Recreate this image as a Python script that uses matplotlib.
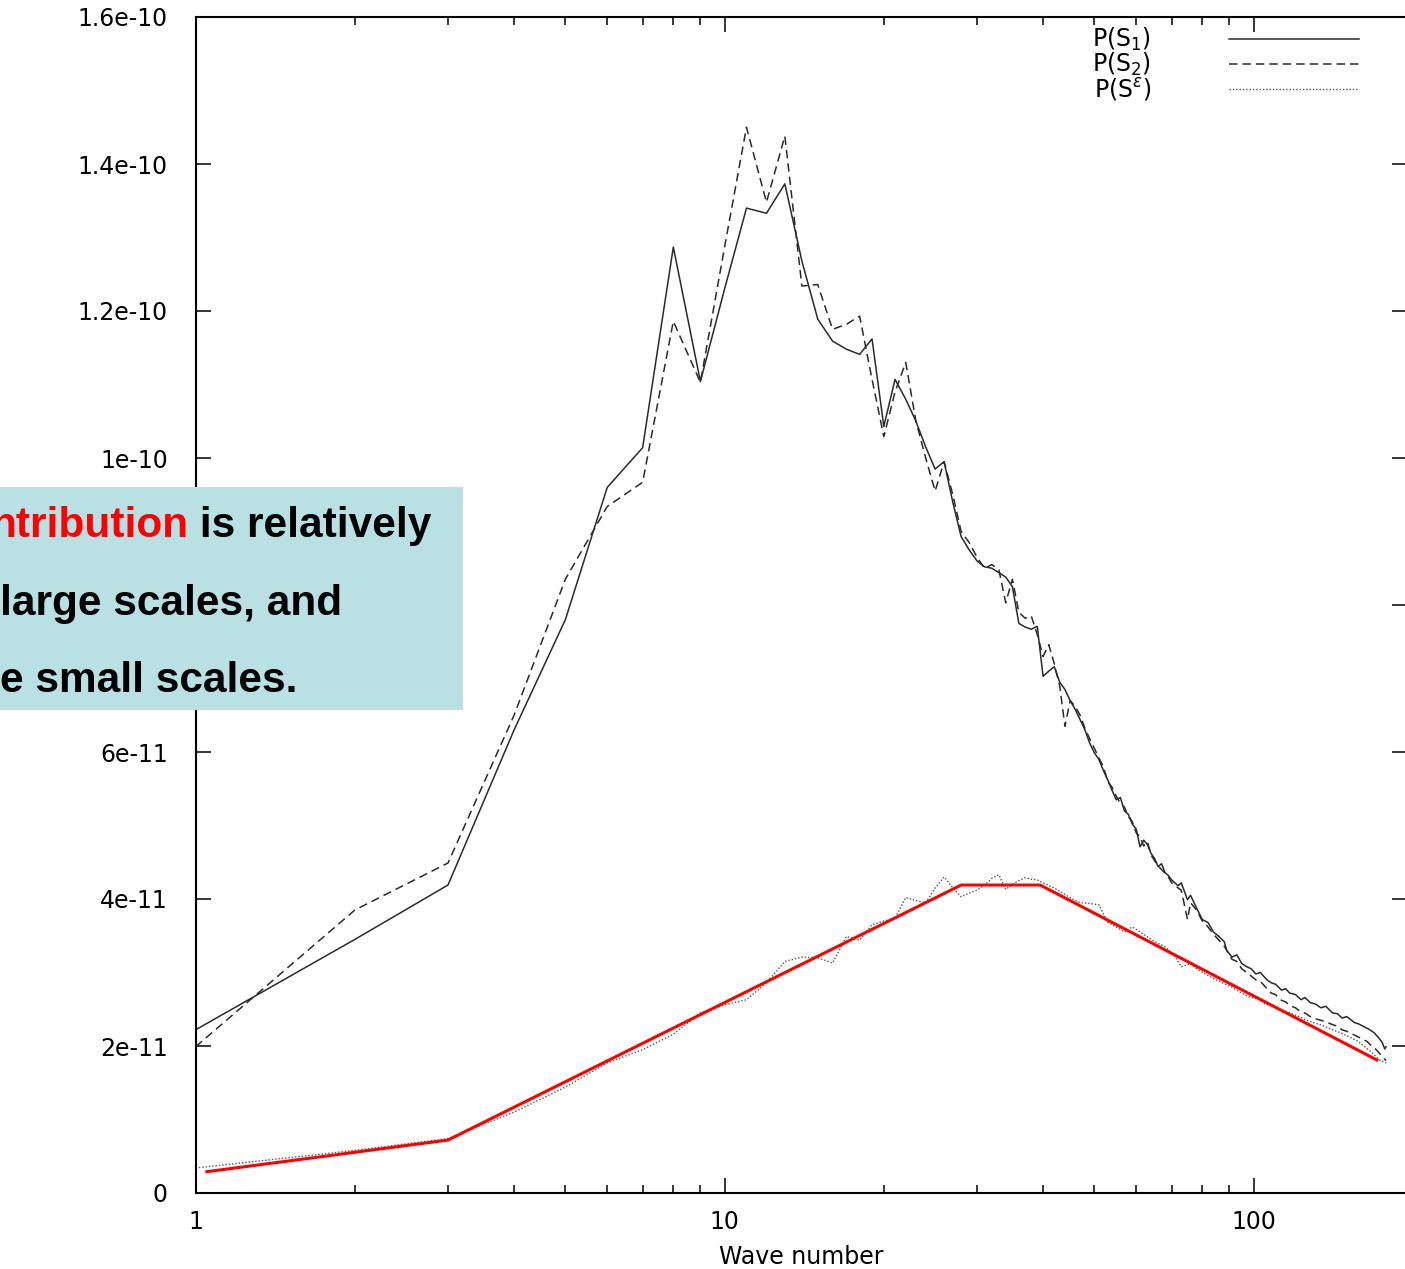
import matplotlib
matplotlib.use("Agg")
import matplotlib.pyplot as plt
import matplotlib.ticker as ticker
from matplotlib.patches import Rectangle
from matplotlib.text import Annotation

W, H = 1405, 1269
UNIT = 1e-11

# P(S1), solid
k_s1 = list(range(1, 71)) + [72, 73, 75, 76, 78, 79, 80, 82, 84, 86, 88, 89, 91, 93, 95, 97, 99,
                             101, 103, 106, 108, 110, 113, 115, 117, 120, 123, 125, 128, 131, 134,
                             137, 141, 144, 147, 150, 155, 158, 161, 164, 166, 169, 172, 175, 177, 178]
p_s1 = [2.22, 3.45, 4.19, 6.30, 7.80, 9.60, 10.14, 12.87, 11.04, 12.30,
        13.40, 13.33, 13.73, 12.68, 11.89, 11.59, 11.48, 11.41, 11.62, 10.43,
        11.07, 10.80, 10.50, 10.15, 9.85, 9.95, 9.40, 8.93, 8.75, 8.60,
        8.52, 8.50, 8.44, 8.38, 8.25, 7.75, 7.70, 7.67, 7.71, 7.03,
        7.10, 7.16, 6.95, 6.85, 6.70, 6.58, 6.44, 6.30, 6.12, 5.99,
        5.90, 5.75, 5.62, 5.48, 5.35, 5.38, 5.20, 5.15, 5.02, 4.95,
        4.71, 4.80, 4.74, 4.62, 4.55, 4.44, 4.48, 4.36, 4.32, 4.26,
        4.18, 4.22, 3.99, 4.05, 3.88, 3.80, 3.72, 3.68, 3.55, 3.49, 3.42, 3.30, 3.21, 3.24, 3.12,
        3.08, 3.05, 2.98, 3.00, 2.90, 2.86, 2.84, 2.76, 2.78, 2.72, 2.70, 2.63, 2.66, 2.59, 2.57,
        2.52, 2.54, 2.45, 2.44, 2.38, 2.40, 2.32, 2.30, 2.27, 2.24, 2.22, 2.18, 2.12, 2.05, 1.96, 1.99]

# P(S2), dashed
k_s2 = list(range(1, 71)) + [72, 73, 75, 76, 78, 80, 82, 84, 86, 88, 91, 93, 95, 97, 99, 101, 103,
                             106, 108, 110, 113, 115, 117, 120, 123, 125, 128, 131, 134, 137, 141,
                             144, 147, 150, 155, 158, 161, 164, 166, 169, 172, 175, 178]
p_s2 = [1.99, 3.85, 4.49, 6.50, 8.35, 9.34, 9.67, 11.86, 11.03, 12.87,
        14.50, 13.48, 14.38, 12.34, 12.36, 11.75, 11.82, 11.93, 11.07, 10.29,
        10.90, 11.30, 10.50, 10.00, 9.55, 9.95, 9.50, 9.00, 8.85, 8.65,
        8.50, 8.55, 8.48, 8.03, 8.35, 7.90, 7.82, 7.85, 7.60, 7.30,
        7.46, 7.20, 6.90, 6.35, 6.70, 6.62, 6.50, 6.32, 6.18, 6.05,
        5.92, 5.80, 5.60, 5.52, 5.40, 5.30, 5.25, 5.12, 5.05, 4.90,
        4.85, 4.72, 4.78, 4.60, 4.52, 4.45, 4.40, 4.35, 4.30, 4.22,
        4.15, 4.12, 3.72, 3.95, 3.85, 3.70, 3.62, 3.52, 3.44, 3.36, 3.18, 3.15, 3.05, 3.00, 2.95,
        2.90, 2.88, 2.78, 2.72, 2.70, 2.62, 2.60, 2.55, 2.52, 2.46, 2.45, 2.40, 2.37, 2.35, 2.33,
        2.29, 2.27, 2.22, 2.20, 2.15, 2.12, 2.09, 2.06, 2.02, 1.98, 1.92, 1.86, 1.80]

# P(S^eps), dotted
k_se = list(range(1, 41)) + [42, 44, 46, 47, 49, 51, 53, 55, 57, 59, 62, 65, 68, 71, 73, 76, 78, 81,
                             85, 88, 91, 95, 98, 102, 105, 109, 113, 117, 122, 126, 131, 136, 141,
                             146, 152, 157, 163, 168, 173, 178]
p_se = [0.34, 0.58, 0.74, 1.10, 1.44, 1.77, 1.95, 2.16, 2.45, 2.56,
        2.63, 2.86, 3.15, 3.21, 3.20, 3.13, 3.49, 3.44, 3.65, 3.70,
        3.74, 4.02, 3.98, 3.95, 4.15, 4.30, 4.15, 4.03, 4.08, 4.12,
        4.19, 4.28, 4.33, 4.13, 4.20, 4.25, 4.29, 4.27, 4.26, 4.22,
        4.15, 4.06, 3.98, 3.95, 3.94, 3.92, 3.68, 3.62, 3.55, 3.62, 3.52, 3.42, 3.35, 3.22,
        3.08, 3.12, 3.05, 2.98, 2.90, 2.85, 2.80, 2.72, 2.67, 2.64, 2.58, 2.54, 2.49, 2.45,
        2.40, 2.35, 2.31, 2.27, 2.22, 2.18, 2.12, 2.07, 1.98, 1.90, 1.81, 1.77]

# red trend drawn over the plot
k_red = [1.05, 3, 28, 39.5, 171]
p_red = [0.29, 0.72, 4.19, 4.19, 1.81]

yticks = [0, 2e-11, 4e-11, 6e-11, 8e-11, 1e-10, 1.2e-10, 1.4e-10, 1.6e-10]
xticks = [1, 10, 100]
xticklabels = ["1", "10", "100"]
labels = [r"P(S$_1$)", r"P(S$_2$)", r"P(S$^{\varepsilon}$)"]

box_lines = [("ntribution", " is relatively"), ("large scales, and", ""), ("e small scales.", "")]

plt.rcParams["font.family"] = ["DejaVu Sans"]
fig = plt.figure(figsize=(W / 100, H / 100), dpi=100, facecolor="white")
ax = fig.add_axes([195.6 / W, 1 - 1193 / H, (1407 - 195.6) / W, (1193 - 17) / H])

sc = lambda vals: [v * UNIT for v in vals]
l1, = ax.plot(k_s1, sc(p_s1), color="#2a2a2a", lw=1.1, label=labels[0])
l2, = ax.plot(k_s2, sc(p_s2), color="#2a2a2a", lw=1.1, label=labels[1])
l2.set_dashes((5.5, 3.3))
l3, = ax.plot(k_se, sc(p_se), color="#555555", lw=1.0, label=labels[2])
l3.set_dashes((1.0, 1.4))
ax.plot(k_red, sc(p_red), color="#ff0000", lw=2.2, zorder=5)

ax.set_xscale("log")
ax.set_xlim(1, 195)
ax.set_ylim(0, 1.6e-10)
ax.xaxis.set_major_locator(ticker.FixedLocator(xticks))
ax.xaxis.set_major_formatter(ticker.FixedFormatter(xticklabels))
ax.xaxis.set_minor_locator(ticker.LogLocator(base=10, subs=range(2, 10)))
ax.xaxis.set_minor_formatter(ticker.NullFormatter())
ax.set_yticks(yticks)
ax.yaxis.set_major_formatter(ticker.FuncFormatter(lambda v, p: "%g" % v))

ax.tick_params(which="both", direction="in", top=True, right=True, width=1.1, labelsize=17)
ax.tick_params(which="major", length=10.8)
ax.tick_params(which="minor", length=5.8)
ax.tick_params(axis="y", pad=20)
ax.tick_params(axis="x", pad=12)
for s in ax.spines.values():
    s.set_linewidth(1.5)

ax.set_xlabel("Wave number", fontsize=17, labelpad=8)

ax.legend(handles=[l1, l2, l3], loc="upper left", bbox_to_anchor=(1092 / W, 1 - 26 / H),
          bbox_transform=fig.transFigure, frameon=False, markerfirst=False, fontsize=17,
          handlelength=5.5, handletextpad=3.3, labelspacing=-0.1, borderpad=0, borderaxespad=0)

# annotation box pasted over the left part of the chart
fig.add_artist(Rectangle((0, 1 - 710 / H), 463 / W, (710 - 487) / H, transform=fig.transFigure,
                         facecolor="#b9e0e3", edgecolor="none", zorder=10))
baselines = [537, 615, 692]
starts = [-10, 0, 0]
for (a, b), yb, x0 in zip(box_lines, baselines, starts):
    t = fig.text(x0 / W, 1 - yb / H, a, fontsize=30.5, fontweight="bold", family="Liberation Sans",
                 color="#ff0000" if b else "black", va="baseline", ha="left", zorder=11)
    if b:
        fig.add_artist(Annotation(b, xy=(1, 0), xycoords=t, va="bottom", ha="left",
                                  fontsize=30.5, fontweight="bold", family="Liberation Sans",
                                  color="black", annotation_clip=False, zorder=11))

fig.savefig("out.png", dpi=100)
